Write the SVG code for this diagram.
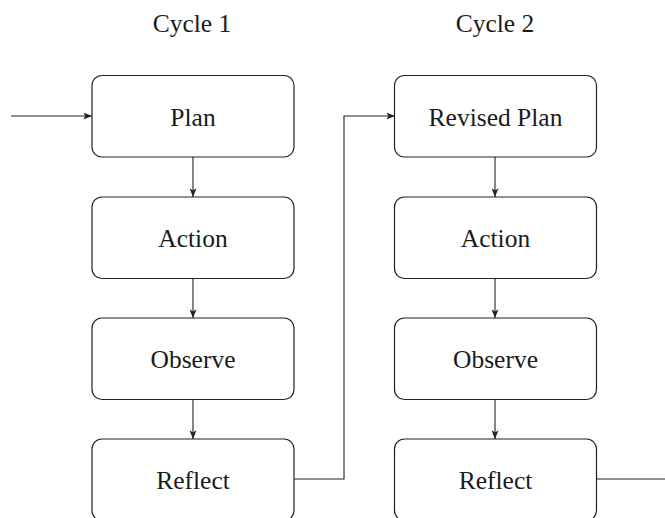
<svg xmlns="http://www.w3.org/2000/svg" width="665" height="518" viewBox="0 0 665 518">
<style>
.box{fill:#fff;stroke:#222;stroke-width:1.2}
.t{font-family:"Liberation Serif",serif;font-size:25.5px;fill:#1a1a1a;text-anchor:middle}
.c{fill:none;stroke:#222;stroke-width:1.1}
</style>
<defs>
<marker id="ah" viewBox="0 0 10 8" refX="10" refY="4" markerWidth="9" markerHeight="7" markerUnits="userSpaceOnUse" orient="auto">
<path d="M0,0 L10,4 L0,8 L2.5,4 Z" fill="#222"/>
</marker>
</defs>
<text class="t" x="192" y="32">Cycle 1</text>
<text class="t" x="495" y="32">Cycle 2</text>
<g id="connectors">
<path class="c" d="M11,116 H92" marker-end="url(#ah)"/>
<path class="c" d="M193,157 V197" marker-end="url(#ah)"/>
<path class="c" d="M193,278 V318" marker-end="url(#ah)"/>
<path class="c" d="M193,399 V439" marker-end="url(#ah)"/>
<path class="c" d="M294,479 H344 V116 H395" marker-end="url(#ah)"/>
<path class="c" d="M495,157 V197" marker-end="url(#ah)"/>
<path class="c" d="M495,278 V318" marker-end="url(#ah)"/>
<path class="c" d="M495,399 V439" marker-end="url(#ah)"/>
<path class="c" d="M596,479 H665"/>
</g>
<g id="plan1"><rect class="box" x="92" y="75.5" width="202" height="81.5" rx="10"/><text class="t" x="193" y="125.5">Plan</text></g>
<g id="action1"><rect class="box" x="92" y="197" width="202" height="81.5" rx="10"/><text class="t" x="193" y="247">Action</text></g>
<g id="observe1"><rect class="box" x="92" y="318" width="202" height="81.5" rx="10"/><text class="t" x="193" y="368">Observe</text></g>
<g id="reflect1"><rect class="box" x="92" y="439" width="202" height="81.5" rx="10"/><text class="t" x="193" y="489">Reflect</text></g>
<g id="plan2"><rect class="box" x="394.5" y="75.5" width="202" height="81.5" rx="10"/><text class="t" x="495.5" y="125.5">Revised Plan</text></g>
<g id="action2"><rect class="box" x="394.5" y="197" width="202" height="81.5" rx="10"/><text class="t" x="495.5" y="247">Action</text></g>
<g id="observe2"><rect class="box" x="394.5" y="318" width="202" height="81.5" rx="10"/><text class="t" x="495.5" y="368">Observe</text></g>
<g id="reflect2"><rect class="box" x="394.5" y="439" width="202" height="81.5" rx="10"/><text class="t" x="495.5" y="489">Reflect</text></g>
</svg>
